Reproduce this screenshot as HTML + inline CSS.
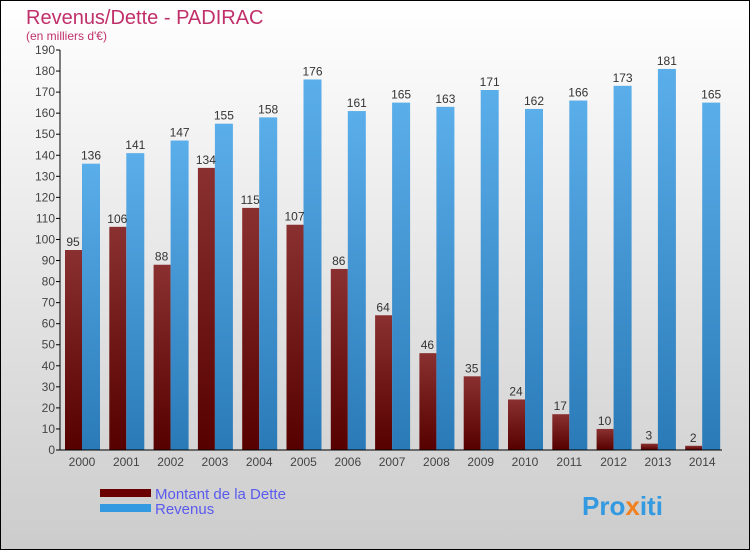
<!DOCTYPE html>
<html><head><meta charset="utf-8"><style>
body{margin:0;padding:0}
svg{display:block;font-family:"Liberation Sans","DejaVu Sans",sans-serif}
</style></head><body>
<svg id="c" width="750" height="550" xmlns="http://www.w3.org/2000/svg">
<defs>
<linearGradient id="bg" x1="0" y1="0" x2="0" y2="1"><stop offset="0" stop-color="#ffffff"/><stop offset="1" stop-color="#cccccc"/></linearGradient>
<linearGradient id="gd" x1="0" y1="0" x2="0" y2="1"><stop offset="0" stop-color="#8a3030"/><stop offset="1" stop-color="#560000"/></linearGradient>
<linearGradient id="gr" x1="0" y1="0" x2="0" y2="1"><stop offset="0" stop-color="#5aaeea"/><stop offset="1" stop-color="#2a7ab8"/></linearGradient>
</defs>
<rect x="0.5" y="0.5" width="749" height="549" fill="url(#bg)" stroke="#000"/>
<text x="26" y="24" font-size="20" fill="#c0306a">Revenus/Dette - PADIRAC</text>
<text x="26" y="40" font-size="12" fill="#c0306a">(en milliers d'€)</text>
<g id="plot"></g>
<g>
<rect x="100" y="489" width="51" height="8" fill="#6a0000"/>
<text x="155" y="499" font-size="15" fill="#5a5aee">Montant de la Dette</text>
<rect x="100" y="504" width="51" height="8" fill="#3399e0"/>
<text x="155" y="514" font-size="15" fill="#5a5aee">Revenus</text>
</g>
<text x="582" y="515" font-size="26" font-weight="bold" fill="#3399e0">Pro<tspan fill="#f08020">x</tspan>iti</text>
</svg>
<script>
const years=["2000","2001","2002","2003","2004","2005","2006","2007","2008","2009","2010","2011","2012","2013","2014"];
const dette=[95,106,88,134,115,107,86,64,46,35,24,17,10,3,2];
const revenus=[136,141,147,155,158,176,161,165,163,171,162,166,173,181,165];
const ticks=[0,10,20,30,40,50,60,70,80,90,100,110,120,130,140,150,160,170,180,190];
const NS="http://www.w3.org/2000/svg";
const g=document.getElementById('plot');
const y=v=>450-v*400/190;
const x=i=>82+i*44.3;
function mk(t,a,p){const e=document.createElementNS(NS,t);for(const k in a)e.setAttribute(k,a[k]);(p||g).appendChild(e);return e;}
ticks.forEach(t=>{
 const l=mk('line',{x1:56,x2:60,y1:y(t),y2:y(t),stroke:'#000'});
 
 
 const tx=mk('text',{x:55,y:y(t)+4,'font-size':12,'text-anchor':'end',fill:'#444'});
 tx.textContent=t;
 
 
});
years.forEach((yr,i)=>{
 const b1=mk('rect',{x:x(i)-17,y:y(dette[i]),width:17,height:450-y(dette[i]),fill:'url(#gd)'});
 
 
 const b2=mk('rect',{x:x(i),y:y(revenus[i]),width:18,height:450-y(revenus[i]),fill:'url(#gr)'});
 
 
 const v1=mk('text',{x:x(i)-9,y:y(dette[i])-4,'font-size':12,'text-anchor':'middle',fill:'#333'});
 v1.textContent=dette[i];
 
 
 const v2=mk('text',{x:x(i)+9,y:y(revenus[i])-4,'font-size':12,'text-anchor':'middle',fill:'#333'});
 v2.textContent=revenus[i];
 
 
 const xl=mk('text',{x:x(i),y:466,'font-size':12,'text-anchor':'middle',fill:'#444'});
 xl.textContent=yr;
 
 
});
const ya=mk('line',{x1:60,x2:60,y1:50,y2:450,stroke:'#000'});


const xa=mk('line',{x1:60,x2:722,y1:450,y2:450,stroke:'#000'});


</script>
</body></html>
